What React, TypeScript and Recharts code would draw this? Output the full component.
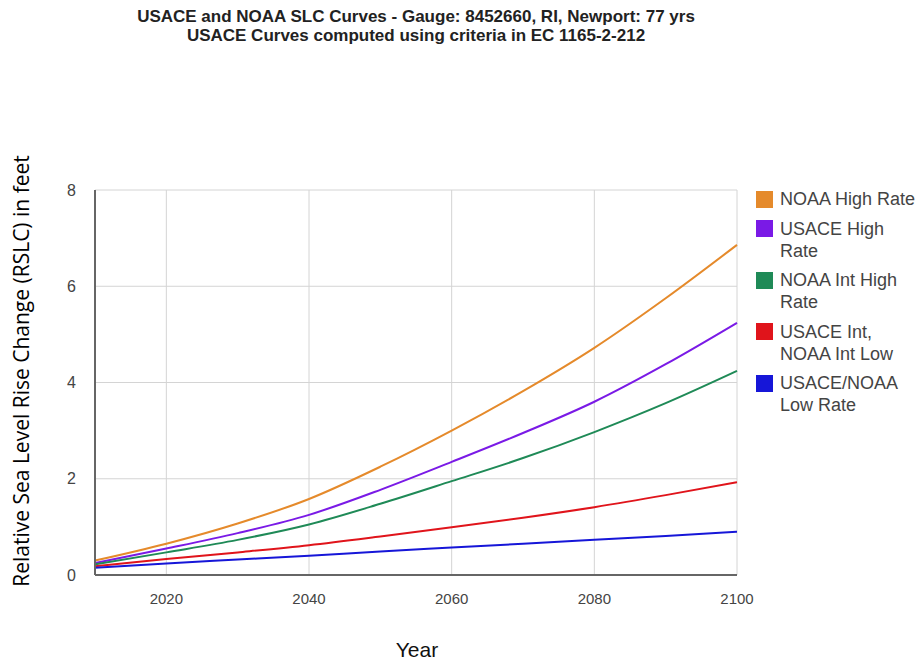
import { CartesianGrid, Legend, Line, LineChart, XAxis, YAxis } from 'recharts';

const years = [2010, 2020, 2030, 2040, 2050, 2060, 2070, 2080, 2090, 2100];
const noaaHigh = [0.3, 0.65, 1.07, 1.58, 2.25, 3.0, 3.82, 4.72, 5.75, 6.86];
const usaceHigh = [0.25, 0.55, 0.87, 1.25, 1.77, 2.35, 2.95, 3.6, 4.38, 5.24];
const noaaIntHigh = [0.22, 0.47, 0.73, 1.05, 1.48, 1.95, 2.43, 2.97, 3.57, 4.24];
const usaceInt = [0.18, 0.33, 0.47, 0.62, 0.8, 0.99, 1.19, 1.41, 1.66, 1.93];
const lowRate = [0.15, 0.24, 0.32, 0.4, 0.49, 0.57, 0.65, 0.73, 0.81, 0.9];

const xTicks = [2020, 2040, 2060, 2080, 2100];
const yTicks = [0, 2, 4, 6, 8];

const series = [
  { key: 'noaaHigh', name: 'NOAA High Rate', lines: ['NOAA High Rate'], color: '#E58A2B' },
  { key: 'usaceHigh', name: 'USACE High Rate', lines: ['USACE High', 'Rate'], color: '#7A1AE6' },
  { key: 'noaaIntHigh', name: 'NOAA Int High Rate', lines: ['NOAA Int High', 'Rate'], color: '#1F8A57' },
  { key: 'usaceInt', name: 'USACE Int, NOAA Int Low', lines: ['USACE Int,', 'NOAA Int Low'], color: '#E0141B' },
  { key: 'lowRate', name: 'USACE/NOAA Low Rate', lines: ['USACE/NOAA', 'Low Rate'], color: '#1616D8' },
];

const data = years.map((year, i) => ({
  year,
  noaaHigh: noaaHigh[i],
  usaceHigh: usaceHigh[i],
  noaaIntHigh: noaaIntHigh[i],
  usaceInt: usaceInt[i],
  lowRate: lowRate[i],
}));

const arial = 'Arial, "Liberation Sans", sans-serif';

function SideLegend() {
  return (
    <div style={{ fontFamily: arial, fontSize: 18, color: '#444' }}>
      {series.map((s) => (
        <div key={s.key} style={{ display: 'flex', alignItems: 'flex-start', marginBottom: 7.5 }}>
          <span
            style={{
              display: 'inline-block',
              width: 17,
              height: 17,
              background: s.color,
              marginRight: 7,
              marginTop: 2.5,
              flex: 'none',
            }}
          />
          <span style={{ lineHeight: '22px', whiteSpace: 'nowrap' }}>
            {s.lines.map((l) => (
              <div key={l}>{l}</div>
            ))}
          </span>
        </div>
      ))}
    </div>
  );
}

export default function App() {
  return (
    <div
      style={{
        position: 'absolute',
        left: 0,
        top: 0,
        width: 918,
        height: 662,
        background: '#fff',
        overflow: 'hidden',
      }}
    >
      <div
        style={{
          position: 'absolute',
          left: 0,
          top: 7,
          width: 832,
          textAlign: 'center',
          fontFamily: arial,
          fontWeight: 'bold',
          fontSize: 17,
          lineHeight: '19px',
          color: '#222',
        }}
      >
        <div>USACE and NOAA SLC Curves - Gauge: 8452660, RI, Newport: 77 yrs</div>
        <div>USACE Curves computed using criteria in EC 1165-2-212</div>
      </div>
      <div
        style={{
          position: 'absolute',
          left: 21,
          top: 371,
          transform: 'translate(-50%, -50%) rotate(-90deg)',
          whiteSpace: 'nowrap',
          fontFamily: '"Open Sans", sans-serif',
          fontSize: 21,
          color: '#000',
        }}
      >
        Relative Sea Level Rise Change (RSLC) in feet
      </div>
      <div
        style={{
          position: 'absolute',
          left: 417,
          top: 650,
          transform: 'translate(-50%, -50%)',
          fontFamily: arial,
          fontSize: 21,
          color: '#111',
        }}
      >
        Year
      </div>
      <LineChart
        width={918}
        height={662}
        data={data}
        margin={{ top: 190, right: 181, bottom: 57, left: 0 }}
        style={{ position: 'absolute', left: 0, top: 0 }}
      >
        <CartesianGrid stroke="#d4d4d4" strokeWidth={1} />
        <XAxis
          dataKey="year"
          type="number"
          domain={[2010, 2100]}
          ticks={xTicks}
          height={30}
          tickLine={false}
          tickSize={6}
          tickMargin={12}
          stroke="#666"
          strokeWidth={2}
          tick={{ fill: '#444', fontSize: 15, fontFamily: arial }}
        />
        <YAxis
          type="number"
          domain={[0, 8]}
          ticks={yTicks}
          width={95}
          tickLine={false}
          tickSize={6}
          tickMargin={13}
          stroke="#666"
          strokeWidth={2}
          tick={{ fill: '#444', fontSize: 16, fontFamily: arial }}
        />
        <Legend
          layout="vertical"
          align="center"
          verticalAlign="middle"
          content={() => <SideLegend />}
          wrapperStyle={{ left: 756, top: 188, width: 162, height: 240 }}
        />
        {series.map((s) => (
          <Line
            key={s.key}
            type="monotone"
            dataKey={s.key}
            name={s.name}
            stroke={s.color}
            strokeWidth={2}
            dot={false}
            isAnimationActive={false}
          />
        ))}
      </LineChart>
    </div>
  );
}
